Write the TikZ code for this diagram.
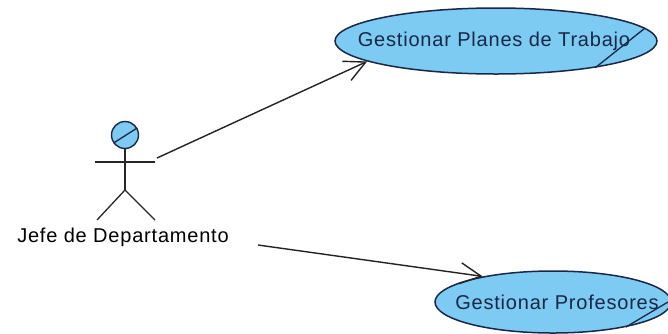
\documentclass[tikz,border=0pt]{standalone}
\usepackage{fontspec}
\setmainfont{Liberation Sans}
\usetikzlibrary{shapes.geometric,arrows.meta}
\definecolor{ucfill}{RGB}{125,202,242}
\definecolor{ucline}{RGB}{24,40,70}
\definecolor{wire}{RGB}{35,35,35}
\tikzset{
  usecase/.style={ellipse, draw=ucline, fill=ucfill, line width=1.5pt, inner sep=0pt},
  uctext/.style={text=ucline, inner sep=0pt, font=\fontsize{20}{24}\selectfont\addfontfeatures{LetterSpace=4}},
  stick/.style={draw=black!85, line width=1.3pt},
  assoc/.style={draw=wire, line width=1.4pt, -{Straight Barb[length=21pt,width=21pt,line width=1.4pt]}},
  slash/.style={draw=ucline, line width=1.3pt}
}
\begin{document}
\begin{tikzpicture}[x=1pt,y=-1pt]
  \useasboundingbox (0,0) rectangle (668,333);
  \clip (0,0) rectangle (668,333);

  % use cases
  \node[usecase, minimum width=322pt, minimum height=66pt] (uc1) at (496,41) {};
  \node[usecase, minimum width=236pt, minimum height=62pt] (uc2) at (553,302) {};
  \draw[slash] (uc1.-15) -- (uc1.5);
  \draw[slash] (uc2.-19) -- (uc2.1);
  \node[uctext] (uc1text) at (494,41) {Gestionar Planes de Trabajo};
  \node[uctext] (uc2text) at (557,302) {Gestionar Profesores};

  % actor
  \node[circle, draw=ucline, fill=ucfill, line width=1.4pt, minimum size=27pt, inner sep=0pt] (head) at (125,135) {};
  \draw[slash] (head.215) -- (head.30);
  \coordinate (hip) at (125,190);
  \draw[stick] (head.south) -- (hip);
  \draw[stick] (95,162) -- (155,162);
  \draw[stick] (hip) -- (97,220);
  \draw[stick] (hip) -- (155,220);
  \node[font=\fontsize{20}{24}\selectfont\addfontfeatures{LetterSpace=4}] (actor) at (123,237) {Jefe de Departamento};

  % associations
  \coordinate (hand) at (157,158);
  \coordinate (tail) at (258,245);
  \draw[assoc] (hand) -- (uc1.189);
  \draw[assoc] (tail) -- (uc2.160);
\end{tikzpicture}
\end{document}
